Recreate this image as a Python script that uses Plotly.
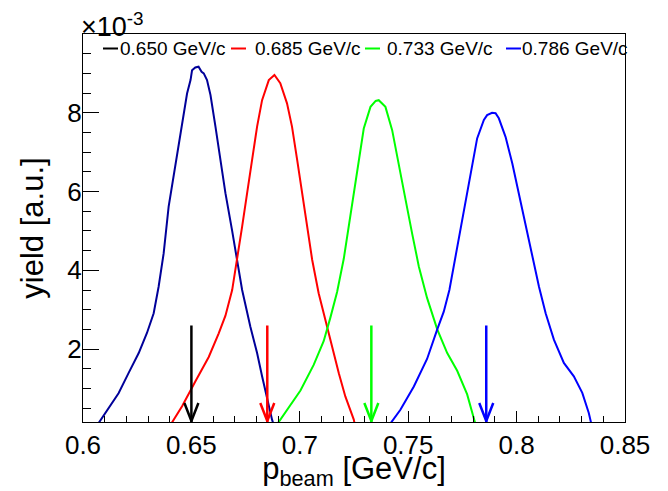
import plotly.graph_objects as go

# ---------------- data (y in units of 1e-3) ----------------
LABELS = ["0.650 GeV/c", "0.685 GeV/c", "0.733 GeV/c", "0.786 GeV/c"]
P_BEAM = [0.650, 0.685, 0.733, 0.786]

X_650 = [0.6057, 0.6103, 0.6164, 0.6210, 0.6257, 0.6295, 0.6326, 0.6349, 0.6372, 0.6395,
         0.6426, 0.6457, 0.6480, 0.6496, 0.6503, 0.6518, 0.6533, 0.6547, 0.6557, 0.6572,
         0.6588, 0.6611, 0.6634, 0.6657, 0.6688, 0.6711, 0.6734, 0.6772, 0.6803, 0.6826,
         0.6849, 0.6872, 0.6884]
Y_650 = [0.0, 0.38, 0.88, 1.39, 1.90, 2.41, 2.91, 3.59, 4.43, 5.62,
         6.63, 7.65, 8.49, 8.83, 9.08, 9.15, 9.17, 9.04, 9.00, 8.83,
         8.45, 7.65, 6.80, 5.96, 5.00, 4.27, 3.50, 2.57, 1.90, 1.31,
         0.72, 0.21, 0.0]

X_685 = [0.6395, 0.6457, 0.6518, 0.6580, 0.6626, 0.6657, 0.6688, 0.6711, 0.6734, 0.6757,
         0.6780, 0.6803, 0.6826, 0.6857, 0.6883, 0.6910, 0.6941, 0.6964, 0.6988, 0.7011,
         0.7034, 0.7057, 0.7087, 0.7118, 0.7149, 0.7180, 0.7210, 0.7249, 0.7257]
Y_685 = [0.0, 0.55, 1.18, 1.80, 2.40, 2.85, 3.50, 4.27, 5.11, 5.96,
         6.80, 7.65, 8.32, 8.83, 8.96, 8.75, 8.24, 7.65, 6.80, 5.96,
         5.11, 4.27, 3.42, 2.74, 2.07, 1.39, 0.80, 0.21, 0.0]

X_733 = [0.6884, 0.6941, 0.7003, 0.7064, 0.7110, 0.7141, 0.7172, 0.7203, 0.7226, 0.7249,
         0.7272, 0.7295, 0.7326, 0.7350, 0.7364, 0.7395, 0.7426, 0.7457, 0.7488, 0.7518,
         0.7549, 0.7587, 0.7634, 0.7680, 0.7726, 0.7772, 0.7815]
Y_733 = [0.0, 0.46, 0.95, 1.60, 2.20, 2.80, 3.45, 4.30, 5.10, 5.90,
         6.80, 7.60, 8.15, 8.30, 8.32, 8.15, 7.56, 6.72, 5.79, 4.94,
         4.10, 3.30, 2.50, 1.90, 1.45, 0.85, 0.0]

X_786 = [0.7403, 0.7464, 0.7526, 0.7587, 0.7634, 0.7664, 0.7690, 0.7710, 0.7745, 0.7772,
         0.7795, 0.7818, 0.7849, 0.7864, 0.7887, 0.7903, 0.7918, 0.7949, 0.7980, 0.8010,
         0.8041, 0.8072, 0.8103, 0.8134, 0.8172, 0.8218, 0.8264, 0.8303, 0.8333, 0.8349]
Y_786 = [0.0, 0.46, 1.05, 1.75, 2.50, 2.95, 3.50, 4.10, 5.07, 5.95,
         6.65, 7.35, 7.82, 7.94, 8.00, 7.99, 7.86, 7.39, 6.72, 5.96,
         5.11, 4.35, 3.59, 2.91, 2.24, 1.65, 1.31, 0.89, 0.38, 0.0]

X_SERIES = [X_650, X_685, X_733, X_786]
Y_SERIES = [Y_650, Y_685, Y_733, Y_786]

X_RANGE = [0.6, 0.85]
Y_RANGE = [0.15, 10.0]
X_TICKS = [0.6, 0.65, 0.7, 0.75, 0.8, 0.85]
X_TICK_TEXT = ["0.6", "0.65", "0.7", "0.75", "0.8", "0.85"]
Y_TICKS = [2, 4, 6, 8]
Y_TICK_TEXT = ["2", "4", "6", "8"]
ARROW_TOP = 2.6

# ---------------- style ----------------
CURVE_COLORS = ["#000099", "#ff0000", "#00ff00", "#0000ff"]
MARK_COLORS = ["#000000", "#ff0000", "#00ff00", "#0000ff"]
FONT = "Liberation Sans, Arial, sans-serif"

PAGE_OFF = 8                     # default body margin of the html page
W, H = 668 - PAGE_OFF, 491 - PAGE_OFF
# target frame in window pixels: left 83, right 625, top 34, bottom 422
ML = 83 - PAGE_OFF
MT = 34 - PAGE_OFF
MR = (W + PAGE_OFF) - 625
MB = (H + PAGE_OFF) - 422
PW, PH = W - ML - MR, H - MT - MB

fig = go.Figure()
for xs, ys, c, name in zip(X_SERIES, Y_SERIES, CURVE_COLORS, LABELS):
    fig.add_trace(go.Scatter(x=xs, y=ys, mode="lines", name=name,
                             line=dict(color=c, width=2), showlegend=False))

shapes = []
for p, c in zip(P_BEAM, MARK_COLORS):
    shapes.append(dict(type="line", xref="x", yref="y", x0=p, x1=p,
                       y0=ARROW_TOP, y1=Y_RANGE[0], line=dict(color=c, width=2.5)))
    shapes.append(dict(type="path", xref="x", yref="y", xsizemode="pixel", ysizemode="pixel",
                       xanchor=p, yanchor=Y_RANGE[0], path="M -7,19 L 0,1 L 7,19",
                       line=dict(color=c, width=2.5)))

# manual legend (window pixel positions converted to paper)
def px2paper_x(px):
    return (px - PAGE_OFF - ML) / PW

def px2paper_y(py):
    return (H + PAGE_OFF - MB - py) / PH

LEG_LINE_X = [103, 231, 365, 506]
LEG_TEXT_X = [119, 254, 386, 521]
LEG_Y = 48.5
annotations = []
for i, (lab, c) in enumerate(zip(LABELS, MARK_COLORS)):
    shapes.append(dict(type="line", xref="paper", yref="paper",
                       x0=px2paper_x(LEG_LINE_X[i]), x1=px2paper_x(LEG_LINE_X[i] + 15),
                       y0=px2paper_y(LEG_Y), y1=px2paper_y(LEG_Y),
                       line=dict(color=c, width=2)))
    annotations.append(dict(xref="paper", yref="paper", x=px2paper_x(LEG_TEXT_X[i]),
                            y=px2paper_y(LEG_Y), xanchor="left", yanchor="middle",
                            text=lab, showarrow=False, borderpad=0,
                            font=dict(family=FONT, size=19, color="black")))

annotations.append(dict(xref="paper", yref="paper", x=0, y=1, xanchor="left", yanchor="bottom",
                        text="×10<sup>-3</sup>", showarrow=False, xshift=-3, yshift=-9,
                        borderpad=0, font=dict(family=FONT, size=27, color="black")))

fig.update_layout(
    width=W, height=H,
    margin=dict(l=ML, r=MR, t=MT, b=MB, autoexpand=False),
    paper_bgcolor="white", plot_bgcolor="white",
    font=dict(family=FONT, color="black"),
    shapes=shapes, annotations=annotations,
    xaxis=dict(range=X_RANGE, tickmode="array", tickvals=X_TICKS, ticktext=X_TICK_TEXT,
               ticks="inside", ticklen=11, tickwidth=1, tickcolor="black",
               showline=True, linecolor="black", linewidth=1, mirror=True,
               showgrid=False, zeroline=False, tickfont=dict(size=26), automargin=False,
               minor=dict(tickmode="linear", tick0=0.6, dtick=0.01, ticks="inside",
                          ticklen=6, tickcolor="black", showgrid=False),
               title=dict(text="p<sub>beam</sub> [GeV/c]", font=dict(size=31), standoff=5)),
    yaxis=dict(range=Y_RANGE, tickmode="array", tickvals=Y_TICKS, ticktext=Y_TICK_TEXT,
               ticks="inside", ticklen=16, tickwidth=1, tickcolor="black",
               showline=True, linecolor="black", linewidth=1, mirror=True,
               showgrid=False, zeroline=False, tickfont=dict(size=26), automargin=False,
               ticklabelstandoff=-5,
               minor=dict(tickmode="linear", tick0=0, dtick=0.5, ticks="inside",
                          ticklen=8, tickcolor="black", showgrid=False),
               title=dict(text="yield [a.u.]", font=dict(size=31), standoff=14)),
)

fig.write_html("out.html")
